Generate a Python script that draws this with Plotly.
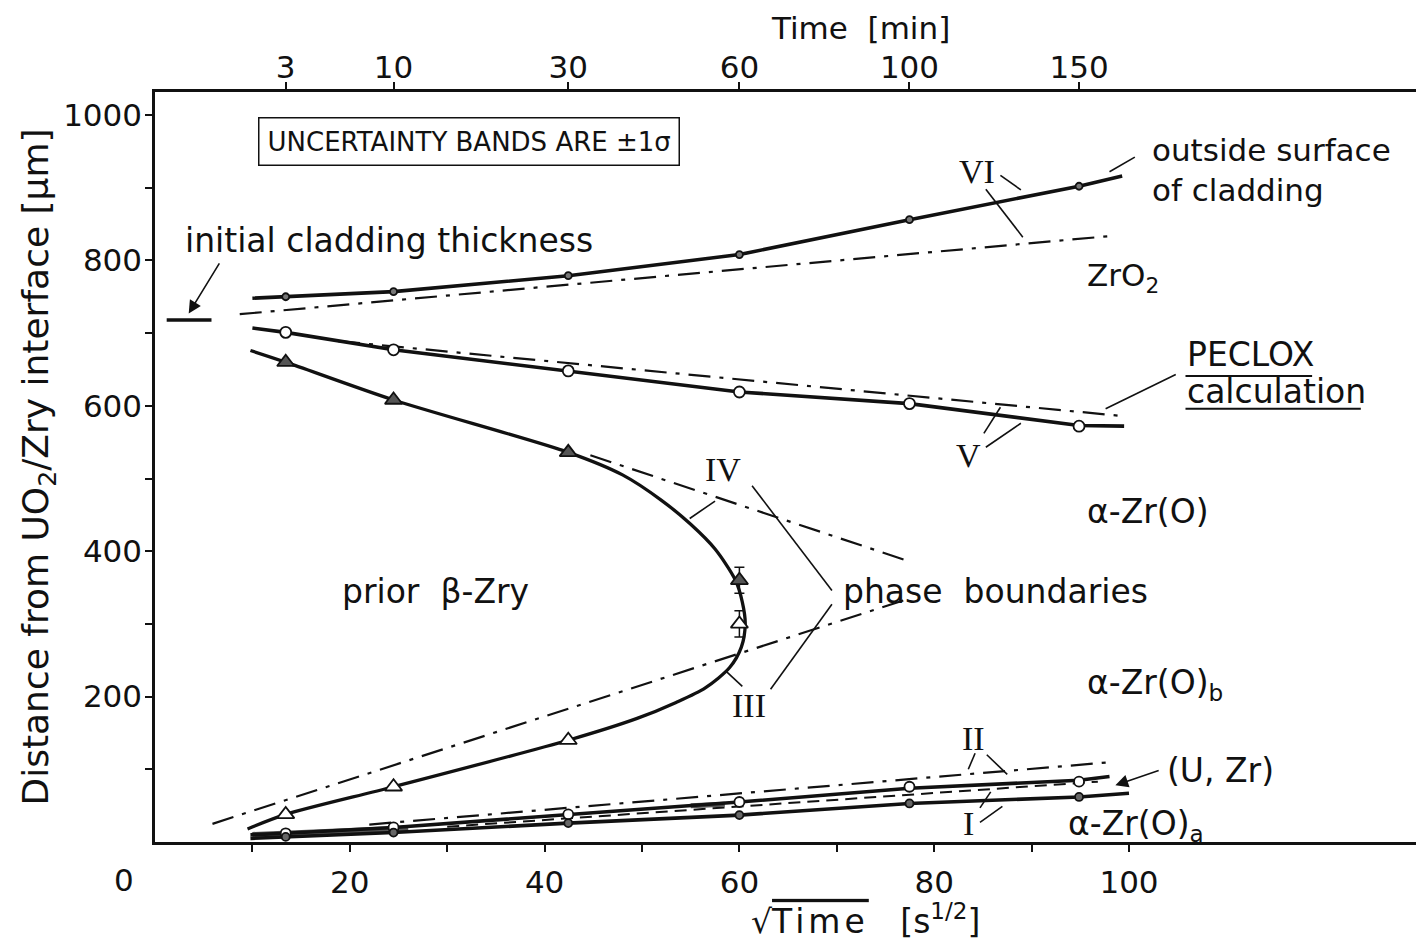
import plotly.graph_objects as go

# ---------------- data ----------------
time_min = [3, 10, 30, 60, 100, 150]                 # top axis tick labels [min]
time_sqrt = [13.42, 24.49, 42.43, 60.0, 77.46, 94.87]  # sqrt(time) [s^1/2] of the measurement times

x_ticks = [10, 20, 30, 40, 50, 60, 70, 80, 90, 100]
x_ticklabels = ["", "20", "", "40", "", "60", "", "80", "", "100"]
y_ticks = [100, 200, 300, 400, 500, 600, 700, 800, 900, 1000]
y_ticklabels = ["", "200", "", "400", "", "600", "", "800", "", "1000"]

# VI : outside surface of cladding
vi_line_x = [10.0, 13.42, 24.49, 42.43, 60.0, 77.46, 94.87, 99.3]
vi_line_y = [748, 750, 757, 779, 808, 856, 902, 916]
vi_meas = [750, 757, 779, 808, 856, 902]
vi_calc_x = [8.7, 98.5]
vi_calc_y = [726, 834]

# V : ZrO2 / alpha-Zr(O) boundary
v_line_x = [10.0, 13.42, 24.49, 42.43, 60.0, 77.46, 94.87, 99.5]
v_line_y = [707, 701, 677, 648, 619, 603, 573, 572]
v_meas = [701, 677, 648, 619, 603, 572]
v_calc_x = [18.8, 99.3]
v_calc_y = [689, 586]

# IV / III : alpha-Zr(O) / prior beta-Zry boundaries (joined curve)
ivIII_x = [9.8, 13.42, 24.49, 42.43, 48.0, 52.0, 55.0, 57.5, 59.6, 60.3, 60.6, 60.2, 59.0, 56.5, 53.5, 49.5, 42.43, 24.49, 13.42, 9.5]
ivIII_y = [676, 660, 608, 536, 505, 470, 437, 403, 360, 330, 300, 268, 240, 212, 192, 170, 140, 76, 38, 18]
iv_meas_x = [13.42, 24.49, 42.43, 60.0]
iv_meas_y = [660, 608, 536, 360]
iv_err = [0, 0, 0, 18]
iii_meas_x = [13.42, 24.49, 42.43, 60.0]
iii_meas_y = [38, 76, 140, 300]
iii_err = [0, 0, 0, 18]
iv_calc_x = [44.7, 77.0]
iv_calc_y = [532, 388]
iii_calc_x = [5.9, 77.0]
iii_calc_y = [25, 333]

# II : (U,Zr) / alpha-Zr(O)a boundary
ii_line_x = [9.8, 13.42, 24.49, 42.43, 60.0, 77.46, 94.87, 98.0]
ii_line_y = [10, 12, 20, 38, 55, 74, 85, 90]
ii_meas = [12, 20, 38, 55, 76, 83]
ii_calc_x = [22.0, 98.3]
ii_calc_y = [24, 110]

# I : UO2 / (U,Zr) boundary
i_line_x = [9.8, 13.42, 24.49, 42.43, 60.0, 77.46, 94.87, 100.0]
i_line_y = [5, 7, 13, 26, 37, 53, 62, 67]
i_meas = [7, 13, 26, 37, 53, 62]
i_calc_x = [30.0, 96.8]
i_calc_y = [21, 83]

# (U,Zr) dark deposits
uzr_a_x = [10.0, 26.0]
uzr_a_y = [9, 18]
uzr_b_x = [55.0, 58.5]
uzr_b_y = [50, 52]

# initial cladding thickness
init_x = [1.2, 5.8]
init_y = [718, 718]

# ---------------- figure ----------------
FONT = "DejaVu Sans"
SERIF = "Liberation Serif"
INK = "#111111"
DASHDOT = "22px,9px,4px,9px"

fig = go.Figure()

def line(x, y, width=3.5, dash="solid", color=INK):
    fig.add_trace(go.Scatter(x=x, y=y, mode="lines", line=dict(color=color, width=width, dash=dash),
                             hoverinfo="skip", showlegend=False))

def markers(x, y, symbol, size, fill, err=None):
    kw = {}
    if err is not None:
        kw["error_y"] = dict(type="data", array=err, visible=True, color=INK, thickness=1.5, width=5)
    fig.add_trace(go.Scatter(x=x, y=y, mode="markers",
                             marker=dict(symbol=symbol, size=size, color=fill, line=dict(color=INK, width=1.8)),
                             hoverinfo="skip", showlegend=False, **kw))

# calculated (PECLOX) lines
line(vi_calc_x, vi_calc_y, 2.2, DASHDOT)
line(v_calc_x, v_calc_y, 2.2, DASHDOT)
line(iv_calc_x, iv_calc_y, 2.2, DASHDOT)
line(iii_calc_x, iii_calc_y, 2.2, DASHDOT)
line(ii_calc_x, ii_calc_y, 2.2, DASHDOT)
line(i_calc_x, i_calc_y, 2.0, "12px,7px")

# deposits
line(uzr_a_x, uzr_a_y, 7, "solid", "#555555")
line(uzr_b_x, uzr_b_y, 5, "solid", "#555555")

# measured lines
line(vi_line_x, vi_line_y, 3.6)
line(v_line_x, v_line_y, 3.6)
fig.add_trace(go.Scatter(x=ivIII_x, y=ivIII_y, mode="lines", line=dict(color=INK, width=3.3, shape="spline", smoothing=0.8),
                         hoverinfo="skip", showlegend=False))
line(ii_line_x, ii_line_y, 3.6)
line(i_line_x, i_line_y, 3.6)
line(init_x, init_y, 3.6)

# measured markers
markers(time_sqrt, vi_meas, "circle", 7, "#777777")
markers(time_sqrt, v_meas, "circle", 11, "white")
markers(iv_meas_x, iv_meas_y, "triangle-up", 15, "#555555", iv_err)
markers(iii_meas_x, iii_meas_y, "triangle-up", 15, "white", iii_err)
markers(time_sqrt, ii_meas, "circle", 10, "white")
markers(time_sqrt, i_meas, "circle", 8, "#666666")

# trace on the top axis so that it is drawn
fig.add_trace(go.Scatter(x=[time_sqrt[0]], y=[None], xaxis="x2", mode="markers", showlegend=False, hoverinfo="skip"))

# page body has an 8 px margin: compensate so the plot lands where it should on screen
OFF = 8
W, H = 1424, 943
SX0, SY_TOP, SY_BOT = 155, 92, 842          # screen position of plot area
L = SX0 - OFF
T = SY_TOP - OFF
B = H - (SY_BOT - OFF)
PW = W - L
PH = SY_BOT - SY_TOP
XMAX = PW / 9.74
YMAX = PH / 0.727

def px(sx):  # screen x -> paper
    return (sx - SX0) / PW

def py(sy):  # screen y -> paper
    return (SY_BOT - sy) / PH

axis_common = dict(showgrid=False, zeroline=False, showline=True, linecolor=INK, linewidth=2.5,
                   ticks="outside", ticklen=7, tickwidth=2, tickcolor=INK, automargin=False,
                   tickfont=dict(family=FONT, size=31, color=INK))

fig.update_layout(
    width=W, height=H,
    margin=dict(l=L, r=0, t=T, b=B, autoexpand=False),
    paper_bgcolor="white", plot_bgcolor="white",
    font=dict(family=FONT, color=INK),
    xaxis=dict(range=[0, XMAX], tickmode="array", tickvals=x_ticks, ticktext=x_ticklabels,
               ticklabelstandoff=4, **axis_common),
    xaxis2=dict(range=[0, XMAX], overlaying="x", side="top", tickmode="array",
                tickvals=time_sqrt, ticktext=[str(m) for m in time_min], ticklabelstandoff=-8,
                **axis_common),
    yaxis=dict(range=[0, YMAX], tickmode="array", tickvals=y_ticks, ticktext=y_ticklabels,
               ticklabelstandoff=-3,
               title=dict(text="Distance from UO<sub>2</sub>/Zry interface [μm]",
                          font=dict(family=FONT, size=36), standoff=4),
               **axis_common),
)

ann = []
def text(x, y, s, size=33, xanchor="center", family=FONT, **kw):
    ann.append(dict(x=x, y=y, xref="x", yref="y", text=s, showarrow=False, xanchor=xanchor, yanchor="middle",
                    font=dict(family=family, size=size, color=INK), **kw))

def stext(sx, sy, s, size=33, xanchor="center"):
    ann.append(dict(x=px(sx), y=py(sy), xref="paper", yref="paper", text=s, showarrow=False,
                    xanchor=xanchor, yanchor="middle", font=dict(family=FONT, size=size, color=INK)))

text(32.2, 964, "UNCERTAINTY BANDS ARE ±1σ", size=26, bordercolor=INK, borderwidth=1.5, borderpad=8)
text(24.0, 828, "initial cladding thickness")
text(102.2, 924, "outside surface<br>of cladding", size=31, xanchor="left", align="left")
text(95.5, 776, "ZrO<sub>2</sub>", size=31, xanchor="left")
text(105.8, 670, "PECLOX", xanchor="left")
text(105.8, 619, "calculation", xanchor="left")
text(95.5, 454, "α-Zr(O)", xanchor="left")
text(28.8, 344, "prior  β-Zry")
text(86.3, 344, "phase  boundaries")
text(95.5, 216, "α-Zr(O)<sub>b</sub>", xanchor="left")
text(103.7, 99, "(U, Zr)", xanchor="left")
text(93.5, 23, "α-Zr(O)<sub>a</sub>", xanchor="left")
for x, y, s in [(84.4, 922, "VI"), (83.5, 532, "V"), (58.3, 512, "IV"), (61.0, 188, "III"), (84.0, 143, "II"), (83.5, 26, "I")]:
    text(x, y, s, size=34, family=SERIF)

stext(124, 880, "0", size=31)
stext(860, 28, "Time  [min]", size=31)
stext(865, 919, "√<span style='text-decoration:overline;letter-spacing:4px'>Time</span>   [s<sup>1/2</sup>]", size=33)

# arrows
ann.append(dict(x=3.46, y=727, ax=6.7, ay=798, xref="x", yref="y", axref="x", ayref="y", text="",
                showarrow=True, arrowhead=2, arrowsize=1.6, arrowwidth=1.6, arrowcolor=INK))
ann.append(dict(x=98.6, y=78, ax=103.2, ay=99, xref="x", yref="y", axref="x", ayref="y", text="",
                showarrow=True, arrowhead=2, arrowsize=1.6, arrowwidth=1.6, arrowcolor=INK))
fig.update_layout(annotations=ann)

# leader lines and underlines
shapes = []
def seg(x0, y0, x1, y1, w=1.6):
    shapes.append(dict(type="line", xref="x", yref="y", x0=x0, y0=y0, x1=x1, y1=y1, line=dict(color=INK, width=w)))

seg(86.8, 917, 88.9, 897)      # VI
seg(85.3, 898, 89.1, 832)
seg(98.0, 922, 100.6, 942)     # outside surface
seg(97.6, 596, 104.8, 643)     # PECLOX
seg(85.1, 562, 86.8, 598)      # V
seg(85.3, 543, 88.9, 576)
seg(54.9, 445, 57.5, 469)      # IV
seg(61.3, 490, 69.5, 346)
seg(58.7, 234, 60.3, 214)      # III
seg(63.2, 210, 69.5, 327)
seg(84.2, 122, 83.5, 100)      # II
seg(85.4, 120, 87.5, 93)
seg(84.7, 27, 87.0, 49)        # I
seg(84.7, 47, 85.8, 69)
seg(105.8, 641, 118.8, 641, 2) # underlines
seg(105.8, 596, 123.8, 596, 2)
fig.update_layout(shapes=shapes)

fig.write_html("out.html")
